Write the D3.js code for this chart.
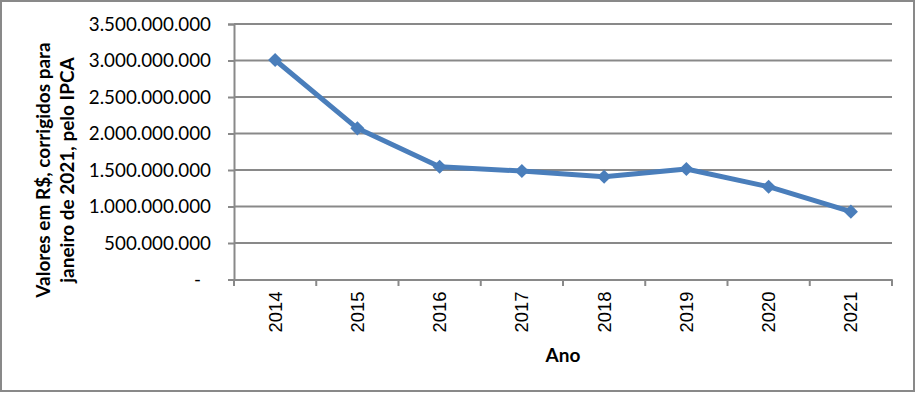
<!DOCTYPE html>
<html><head><meta charset="utf-8">
<script src="https://cdn.jsdelivr.net/npm/d3@7"></script>
<style>html,body{margin:0;padding:0;background:#fff}svg{display:block}</style>
</head><body>
<script>
const years = ["2014","2015","2016","2017","2018","2019","2020","2021"];
const values = [3007000000, 2071000000, 1545000000, 1486000000, 1408000000, 1514000000, 1271000000, 929000000];
const yTicks = [0, 500000000, 1000000000, 1500000000, 2000000000, 2500000000, 3000000000, 3500000000];
const yTitleLines = ["Valores em R$, corrigidos para", "janeiro de 2021, pelo IPCA"];
const xTitle = "Ano";

const W = 916, H = 393;
const svg = d3.select("body").append("svg").attr("width", W).attr("height", H);
svg.append("rect").attr("x",1).attr("y",1).attr("width",W-3).attr("height",H-3)
  .attr("fill","#fff").attr("stroke","#898989").attr("stroke-width",2);

const x = d3.scaleBand().domain(years).range([234, 892]);
const y = d3.scaleLinear().domain([0, 3500000000]).range([279.5, 24]);
const loc = d3.formatLocale({decimal:",", thousands:".", grouping:[3], currency:["R$",""]});
const fmt = loc.format(",.0f");
const grey = "#898989";

// gridlines
svg.append("g").selectAll("line").data(yTicks.filter(d=>d>0)).join("line")
  .attr("x1",234).attr("x2",892).attr("y1",d=>y(d)).attr("y2",d=>y(d))
  .attr("stroke",grey).attr("stroke-width",2);

// y axis
const yAxis = svg.append("g").attr("transform","translate(234,0)")
  .call(d3.axisLeft(y).tickValues(yTicks).tickSize(6).tickPadding(17)
    .tickFormat(d => d === 0 ? "-" : fmt(d)));
yAxis.select(".domain").attr("stroke",grey).attr("stroke-width",2);
yAxis.selectAll(".tick line").attr("stroke",grey).attr("stroke-width",2);
yAxis.selectAll(".tick text").attr("font-family","Lato, 'Open Sans', sans-serif")
  .attr("font-size","18.8px").attr("fill","#000")
  .attr("dx", d => d === 0 ? -10 : 0);

// x axis
const xAxis = svg.append("g").attr("transform","translate(0,279.5)")
  .call(d3.axisBottom(x).tickSize(0).tickPadding(0));
xAxis.select(".domain").attr("stroke",grey).attr("stroke-width",2);
xAxis.selectAll(".tick text").attr("font-family","'Liberation Sans', Arial, sans-serif")
  .attr("font-size","18.4px").attr("fill","#000")
  .attr("text-anchor","end").attr("transform","rotate(-90)")
  .attr("x",-12).attr("y",0).attr("dy","0.35em");
// category boundary ticks
const bounds = years.map(d=>x(d)).concat([x.range()[1]]);
svg.append("g").selectAll("line").data(bounds).join("line")
  .attr("x1",d=>d).attr("x2",d=>d).attr("y1",279.5).attr("y2",286)
  .attr("stroke",grey).attr("stroke-width",2);

// line
const line = d3.line().x((d,i)=>x(years[i])+x.bandwidth()/2).y(d=>y(d));
svg.append("path").datum(values).attr("d",line).attr("fill","none")
  .attr("stroke","#4a7ebb").attr("stroke-width",5).attr("stroke-linejoin","round");
svg.append("g").selectAll("path").data(values).join("path")
  .attr("d", d3.symbol(d3.symbolSquare, 100)())
  .attr("transform",(d,i)=>`translate(${x(years[i])+x.bandwidth()/2},${y(d)}) rotate(45)`)
  .attr("fill","#4a7ebb");

// titles
const yt = svg.append("text").attr("transform","translate(0,170) rotate(-90)")
  .attr("text-anchor","middle").attr("font-family","Lato, 'Open Sans', sans-serif")
  .attr("font-weight","bold").attr("font-size","19px").attr("fill","#000");
yTitleLines.forEach((t,i)=>yt.append("tspan").attr("x",0).attr("y",43.5+24*i).attr("dy","0.35em").text(t));

svg.append("text").attr("x",563).attr("y",355).attr("dy","0.35em").attr("text-anchor","middle")
  .attr("font-family","Lato, 'Open Sans', sans-serif").attr("font-weight","bold")
  .attr("font-size","19px").attr("fill","#000").text(xTitle);
</script>
</body></html>
